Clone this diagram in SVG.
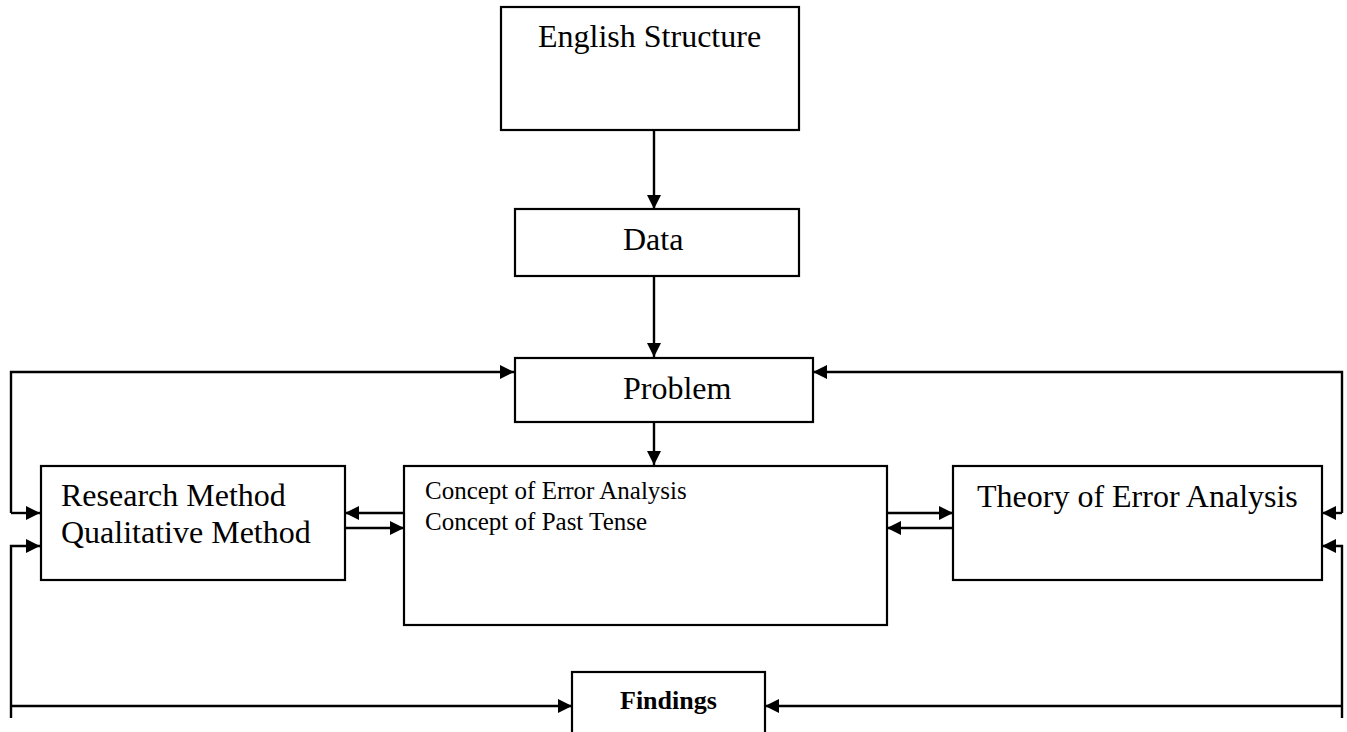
<svg xmlns="http://www.w3.org/2000/svg" width="1347" height="732" viewBox="0 0 1347 732">
<defs>
<style>
.box{fill:#fff;stroke:#000;stroke-width:2.2}
.t{font-family:"Liberation Serif","Times New Roman",serif;font-size:32px;fill:#000}
.s{font-family:"Liberation Serif","Times New Roman",serif;font-size:25px;fill:#000}
.b{font-family:"Liberation Serif","Times New Roman",serif;font-size:26px;font-weight:bold;fill:#000}
.c{fill:none;stroke:#000;stroke-width:2.4}
.a{marker-end:url(#ah)}
</style>
<marker id="ah" markerUnits="userSpaceOnUse" markerWidth="15" markerHeight="15" refX="14" refY="7" orient="auto">
<path d="M0,0 L14,7 L0,14 Z" fill="#000"/>
</marker>
</defs>
<rect width="1347" height="732" fill="#fff"/>
<g id="connectors">
<path class="c a" d="M654,130 V209"/>
<path class="c a" d="M654,276 V357"/>
<path class="c a" d="M654,422 V465"/>
<path class="c a" d="M11,513 V372 H514"/>
<path class="c a" d="M11,513 H40"/>
<path class="c a" d="M11,718 V546 H40"/>
<path class="c a" d="M11,706 H572"/>
<path class="c a" d="M1342,513 V372 H813"/>
<path class="c a" d="M1342,513 H1322"/>
<path class="c a" d="M1342,718 V546 H1322"/>
<path class="c a" d="M1342,706 H765"/>
<path class="c a" d="M404,513 H345"/>
<path class="c a" d="M345,528 H404"/>
<path class="c a" d="M887,513 H953"/>
<path class="c a" d="M953,528 H887"/>
</g>
<g id="english">
<rect class="box" x="501" y="7" width="298" height="123"/>
<text class="t" x="538" y="47">English Structure</text>
</g>
<g id="data">
<rect class="box" x="515" y="209" width="284" height="67"/>
<text class="t" x="623" y="250">Data</text>
</g>
<g id="problem">
<rect class="box" x="515" y="358" width="298" height="64"/>
<text class="t" x="623" y="399">Problem</text>
</g>
<g id="research">
<rect class="box" x="41" y="466" width="304" height="114"/>
<text class="t" x="61" y="506">Research Method</text>
<text class="t" x="61" y="543">Qualitative Method</text>
</g>
<g id="concept">
<rect class="box" x="404" y="466" width="483" height="159"/>
<text class="s" x="425" y="499">Concept of Error Analysis</text>
<text class="s" x="425" y="530">Concept of Past Tense</text>
</g>
<g id="theory">
<rect class="box" x="953" y="466" width="369" height="114"/>
<text class="t" x="977" y="507">Theory of Error Analysis</text>
</g>
<g id="findings">
<rect class="box" x="572" y="672" width="193" height="80"/>
<text class="b" x="620" y="709">Findings</text>
</g>
</svg>
